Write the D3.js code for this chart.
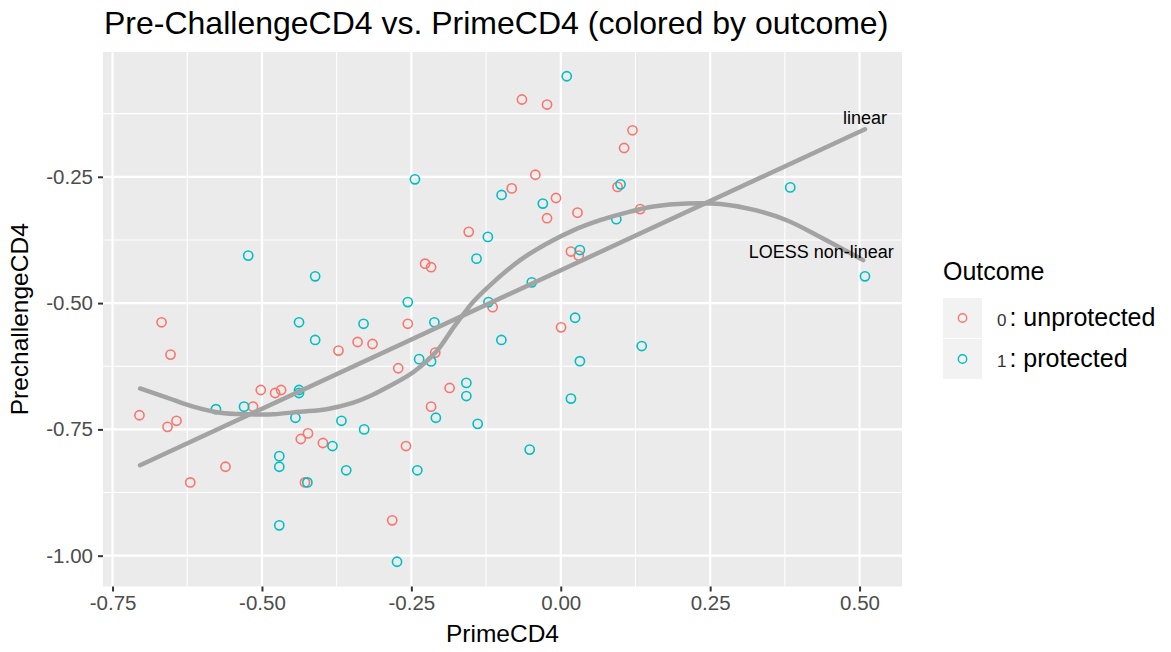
<!DOCTYPE html>
<meta charset="utf-8">
<style>
body { margin: 0; background: #fff; }
text { font-family: Arial, "Liberation Sans", sans-serif; }
.pt { fill: none; stroke-width: 1.6px; }
.fit { fill: none; stroke: #a3a3a3; stroke-width: 4.5px; stroke-linecap: round; stroke-linejoin: round; }
</style>
<svg width="1171" height="652"></svg>
<script src="https://cdn.jsdelivr.net/npm/d3@7"></script>
<script>

// outcome 0: unprotected
var unprotectedPrime = [-0.668, -0.653, -0.065, -0.023, 0.120, 0.106, -0.0425, -0.082, -0.008, -0.023,
  0.028, 0.095, 0.133, -0.154, -0.227, -0.217, 0.017, 0.030, -0.114, -0.256,
  -0.340, -0.315, -0.372, 0.0005, -0.210, -0.272, -0.186, -0.217, -0.259, -0.282,
  -0.502, -0.478, -0.468, -0.515, -0.705, -0.658, -0.643, -0.620, -0.561, -0.435,
  -0.423, -0.398, -0.428];
var unprotectedPre = [-0.538, -0.602, -0.097, -0.107, -0.158, -0.193, -0.246, -0.273, -0.292, -0.332,
  -0.321, -0.270, -0.314, -0.359, -0.422, -0.429, -0.398, -0.406, -0.508, -0.541,
  -0.577, -0.581, -0.594, -0.548, -0.598, -0.629, -0.668, -0.705, -0.783, -0.930,
  -0.672, -0.678, -0.672, -0.705, -0.722, -0.745, -0.733, -0.855, -0.824, -0.769,
  -0.758, -0.777, -0.855];

// outcome 1: protected
var protectedPrime = [-0.523, -0.411, 0.010, -0.244, -0.099, -0.030, 0.100, 0.093, -0.122, -0.141,
  0.032, -0.0485, -0.256, -0.121, 0.024, -0.2115, -0.438, -0.330, -0.0994, 0.032,
  -0.237, -0.217, -0.158, -0.158, -0.209, -0.139, 0.017, 0.1355, -0.052, -0.240,
  -0.274, 0.384, 0.509, -0.411, -0.438, -0.438, -0.577, -0.530, -0.444, -0.367,
  -0.329, -0.382, -0.471, -0.471, -0.471, -0.424, -0.359];
var protectedPre = [-0.406, -0.447, -0.051, -0.255, -0.286, -0.303, -0.265, -0.334, -0.369, -0.412,
  -0.395, -0.459, -0.498, -0.498, -0.529, -0.538, -0.538, -0.541, -0.573, -0.615,
  -0.611, -0.6155, -0.658, -0.684, -0.727, -0.739, -0.689, -0.585, -0.790, -0.831,
  -1.012, -0.271, -0.447, -0.573, -0.672, -0.678, -0.710, -0.705, -0.727, -0.733,
  -0.750, -0.783, -0.803, -0.824, -0.940, -0.855, -0.831];

// fitted lines
var linearFitX = [-0.704, 0.509];
var linearFitY = [-0.821, -0.156];
var loessFitX = [-0.704, -0.659, -0.615, -0.570, -0.525, -0.481, -0.436, -0.392, -0.347, -0.319,
  -0.291, -0.247, -0.2075, -0.180, -0.157, -0.146, -0.113, -0.068, -0.023, 0.021,
  0.066, 0.116, 0.155, 0.211, 0.267, 0.322, 0.378, 0.434, 0.506];
var loessFitY = [-0.669, -0.687, -0.705, -0.717, -0.720, -0.720, -0.715, -0.710, -0.697, -0.684,
  -0.667, -0.637, -0.595, -0.549, -0.513, -0.497, -0.459, -0.415, -0.382, -0.356,
  -0.336, -0.319, -0.309, -0.303, -0.304, -0.315, -0.336, -0.369, -0.415];

var xTicks = [-0.75, -0.50, -0.25, 0.00, 0.25, 0.50];
var yTicks = [-1.00, -0.75, -0.50, -0.25];
var outcomeLabels = ["0", "1"];
var outcomeNames = [": unprotected", ": protected"];
var outcomeColors = ["#F8766D", "#00BFC4"];

var svg = d3.select("svg"),
    panel = {left: 103, right: 902, top: 52, bottom: 586.5};

var x = d3.scaleLinear().domain([-0.766, 0.571]).range([panel.left, panel.right]),
    y = d3.scaleLinear().domain([-1.061, -0.003]).range([panel.bottom, panel.top]);

var points = unprotectedPrime.map(function(v, i) { return {x: v, y: unprotectedPre[i], o: 0}; })
  .concat(protectedPrime.map(function(v, i) { return {x: v, y: protectedPre[i], o: 1}; }));

// panel + grid
svg.append("rect")
  .attr("x", panel.left).attr("y", panel.top)
  .attr("width", panel.right - panel.left).attr("height", panel.bottom - panel.top)
  .attr("fill", "#ebebeb");

var xMinor = d3.range(-0.875, 0.7, 0.25).filter(function(v) { return v > x.domain()[0] && v < x.domain()[1]; }),
    yMinor = d3.range(-1.125, 0.1, 0.25).filter(function(v) { return v > y.domain()[0] && v < y.domain()[1]; });

var grid = svg.append("g").attr("stroke", "#fff");
grid.selectAll(".xminor").data(xMinor).enter().append("line")
  .attr("x1", x).attr("x2", x).attr("y1", panel.top).attr("y2", panel.bottom).attr("stroke-width", 1.1);
grid.selectAll(".yminor").data(yMinor).enter().append("line")
  .attr("y1", y).attr("y2", y).attr("x1", panel.left).attr("x2", panel.right).attr("stroke-width", 1.1);
grid.selectAll(".xmajor").data(xTicks).enter().append("line")
  .attr("x1", x).attr("x2", x).attr("y1", panel.top).attr("y2", panel.bottom).attr("stroke-width", 2.2);
grid.selectAll(".ymajor").data(yTicks).enter().append("line")
  .attr("y1", y).attr("y2", y).attr("x1", panel.left).attr("x2", panel.right).attr("stroke-width", 2.2);

// axes
var xAxis = svg.append("g")
  .attr("transform", "translate(0," + panel.bottom + ")")
  .call(d3.axisBottom(x).tickValues(xTicks).tickSize(5).tickPadding(4));
var yAxis = svg.append("g")
  .attr("transform", "translate(" + panel.left + ",0)")
  .call(d3.axisLeft(y).tickValues(yTicks).tickSize(5).tickPadding(5));
[xAxis, yAxis].forEach(function(a) {
  a.select(".domain").remove();
  a.selectAll(".tick line").attr("stroke", "#333").attr("stroke-width", 2);
  a.selectAll(".tick text").attr("fill", "#4d4d4d")
    .style("font-size", "20.5px").style("font-family", "Arial, 'Liberation Sans', sans-serif")
    .text(function(d) { return d3.format(".2f")(d).replace("−", "-"); });
});

// points
svg.append("g").selectAll("circle")
  .data(points)
  .enter().append("circle")
  .attr("class", "pt")
  .attr("cx", function(d) { return x(d.x); })
  .attr("cy", function(d) { return y(d.y); })
  .attr("r", 4.6)
  .attr("stroke", function(d) { return outcomeColors[d.o]; });

// fits
var smooth = d3.line().curve(d3.curveCatmullRom)
    .x(function(d) { return x(d[0]); })
    .y(function(d) { return y(d[1]); });
svg.append("path").attr("class", "fit")
  .attr("d", smooth(loessFitX.map(function(v, i) { return [v, loessFitY[i]]; })));
svg.append("path").attr("class", "fit")
  .attr("d", smooth(linearFitX.map(function(v, i) { return [v, linearFitY[i]]; })));

svg.append("text").attr("x", x(0.509)).attr("y", y(-0.146))
  .attr("text-anchor", "middle").style("font-size", "18px").text("linear");
svg.append("text").attr("x", x(0.436)).attr("y", y(-0.411))
  .attr("text-anchor", "middle").style("font-size", "18px").text("LOESS non-linear");

// titles
svg.append("text").attr("x", 104).attr("y", 34).style("font-size", "32px")
  .text("Pre-ChallengeCD4 vs. PrimeCD4 (colored by outcome)");
svg.append("text").attr("x", (panel.left + panel.right) / 2).attr("y", 642)
  .attr("text-anchor", "middle").style("font-size", "24.5px").text("PrimeCD4");
svg.append("text").attr("transform", "translate(28," + ((panel.top + panel.bottom) / 2) + ") rotate(-90)")
  .attr("text-anchor", "middle").style("font-size", "24.5px").text("PrechallengeCD4");

// legend
var legend = svg.append("g").attr("transform", "translate(943,0)");
legend.append("text").attr("x", 0).attr("y", 280).style("font-size", "25px").text("Outcome");
var item = legend.selectAll(".item").data(outcomeLabels).enter().append("g")
  .attr("transform", function(d, i) { return "translate(0," + (298 + i * 41) + ")"; });
item.append("rect").attr("width", 39).attr("height", 40).attr("fill", "#f2f2f2");
item.append("circle").attr("cx", 19.5).attr("cy", 20).attr("r", 4.2)
  .attr("fill", "none").attr("stroke-width", 1.4)
  .attr("stroke", function(d, i) { return outcomeColors[i]; });
var lab = item.append("text").attr("x", 54).attr("y", 28);
lab.append("tspan").style("font-size", "17px").attr("fill", "#333").text(function(d) { return d; });
lab.append("tspan").attr("dx", 3).style("font-size", "25px").attr("fill", "#000")
  .text(function(d, i) { return outcomeNames[i]; });

</script>
